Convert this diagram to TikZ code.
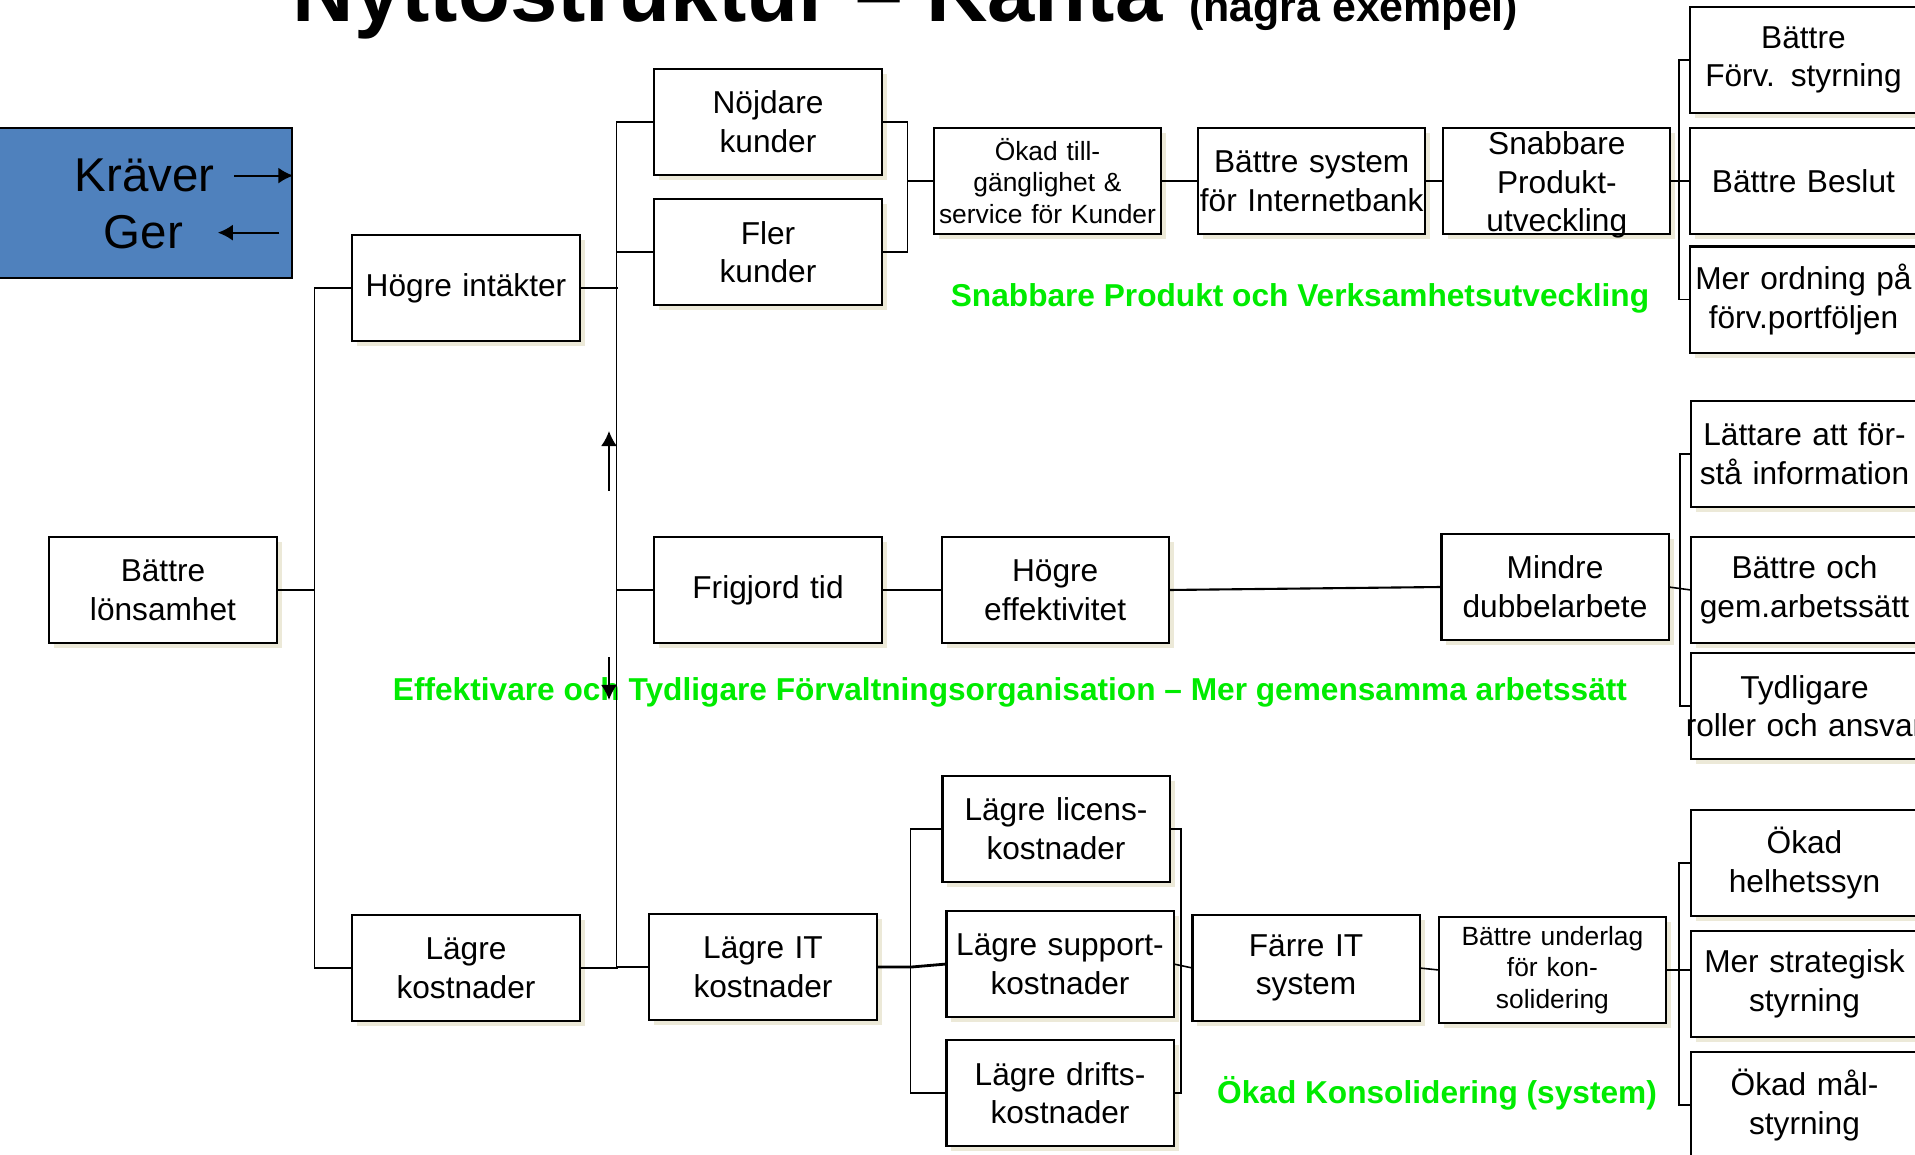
\documentclass[tikz,border=0pt]{standalone}
\usepackage{fontspec}
\setmainfont{Liberation Sans}
\usepackage{tikz}
\usetikzlibrary{arrows.meta, positioning, shadows}

\definecolor{legendblue}{RGB}{79,129,189}
\definecolor{goalgreen}{RGB}{0,235,0}
\definecolor{boxshadow}{RGB}{236,233,216}

\begin{document}
\begin{tikzpicture}[
            % one unit = one pixel of the slide
            x=0.01cm, y=-0.01cm,
            box/.style={
                draw, rectangle, line width=0.6pt,
                minimum height=1.06cm, minimum width=2.27cm,
                text width=2.27cm, inner xsep=0pt, inner ysep=0pt, outer sep=0pt,
                align=center, fill=white,
                font=\fontsize{9}{11}\selectfont,
                drop shadow={shadow xshift=0.05cm, shadow yshift=-0.05cm, fill=boxshadow, opacity=1}
            },
            smallbox/.style={box, font=\fontsize{7.5}{9}\selectfont},
            legend/.style={
                draw, rectangle, line width=0.7pt,
                minimum width=2.94cm, minimum height=1.5cm,
                fill=legendblue
            },
            goal/.style={text=goalgreen, inner sep=0pt, font=\fontsize{9}{11}\selectfont\bfseries},
            link/.style={line width=0.45pt},
            arrow/.style={-{Latex[length=1.5mm, width=1.6mm]}, line width=0.6pt}
        ]

        \useasboundingbox (0,0) rectangle (1915,1155);

        % Title
        \node[anchor=base west, inner sep=0pt, font=\fontsize{24.2}{29}\selectfont\bfseries] (title) at (292,22) {Nyttostruktur -- Kanta};
        \node[anchor=base west, inner sep=0pt, font=\fontsize{12.2}{14}\selectfont\bfseries] (subtitle) at ([xshift=0.25cm]title.base east) {(några exempel)};

        % Legend
        \node[legend] (legend) at (145,203) {};
        \node[anchor=base, inner sep=0pt, font=\fontsize{13.5}{16}\selectfont] (kraver) at (144.5,191.7) {Kräver};
        \node[anchor=base, inner sep=0pt, font=\fontsize{13.5}{16}\selectfont] (ger) at (143.5,249) {Ger};
        \draw[arrow] ([xshift=0.19cm]kraver.east) -- (kraver.east -| legend.east);
        \draw[arrow] ([xshift=-0.14cm]ger.east -| legend.east) -- ([xshift=0.34cm]ger.east);

        % Root and first level
        \node[box] (lonsamhet) at (163,590) {Bättre\\lönsamhet};
        \node[box] (intakter) at (466,288) {Högre intäkter};
        \node[box] (kostnader) at (466,968) {Lägre\\kostnader};

        % Second level
        \node[box] (nojdare) at (768,122) {Nöjdare\\kunder};
        \node[box, below=0.24cm of nojdare] (fler) {Fler\\kunder};
        \node[box] (frigjord) at (768,590) {Frigjord tid};
        \node[box] (lagreit) at (763,967) {Lägre IT\\kostnader};

        % Upper branch
        \node[smallbox] (tillgang) at (1047.5,181) {Ökad till-\\gänglighet \&\\service för Kunder};
        \node[box, right=0.37cm of tillgang] (internetbank) {Bättre system\\för Internetbank};
        \node[box, right=0.18cm of internetbank, text height=7pt, text depth=22pt] (snabbare) {Snabbare\\Produkt-\\utveckling};
        \node[box, right=0.195cm of snabbare] (beslut) {Bättre Beslut};
        \node[box, above=0.15cm of beslut] (forvstyrning) {Bättre\\Förv. styrning};
        \node[box, below=0.125cm of beslut] (ordning) {Mer ordning på\\förv.portföljen};

        % Middle branch
        \node[box, right=0.6cm of frigjord] (effektivitet) {Högre\\effektivitet};
        \node[box] (dubbel) at (1555,587) {Mindre\\dubbelarbete};
        \node[box] (arbetssatt) at (1804.5,590) {Bättre och\\gem.arbetssätt};
        \node[box, above=0.3cm of arbetssatt] (forsta) {Lättare att för-\\stå information};
        \node[box, below=0.1cm of arbetssatt] (roller) {Tydligare\\\makebox[2.27cm]{roller och ansvar}};

        % Lower branch
        \node[box] (licens) at (1056,829) {Lägre licens-\\kostnader};
        \node[box] (support) at (1060,964) {Lägre support-\\kostnader};
        \node[box, below=0.23cm of support] (drift) {Lägre drifts-\\kostnader};
        \node[box] (farre) at (1306,968) {Färre IT\\system};
        \node[smallbox] (underlag) at (1552.4,970) {Bättre underlag\\för kon-\\solidering};
        \node[box] (strategisk) at (1804.5,984) {Mer strategisk\\styrning};
        \node[box, above=0.15cm of strategisk] (helhet) {Ökad\\helhetssyn};
        \node[box, below=0.15cm of strategisk] (malstyrning) {Ökad mål-\\styrning};

        % Goals
        \node[goal] (goalfast) at (1300,298) {Snabbare Produkt och Verksamhetsutveckling};
        \node[goal] (goalorg) at (1010,692) {Effektivare och Tydligare Förvaltningsorganisation -- Mer gemensamma arbetssätt};
        \node[goal] (goalcons) at (1437,1093) {Ökad Konsolidering (system)};

        % Tree lines
        \draw[link] (lonsamhet.east) -- ++(38,0);
        \draw[link] (intakter.west) -- ++(-38,0) |- (kostnader.west);
        \draw[link] (nojdare.west) -- ++(-38,0) |- (lagreit.west);
        \draw[link] (fler.west) -- ++(-38,0);
        \draw[link] (frigjord.west) -- ++(-38,0);
        \draw[link, line width=0.8pt] (intakter.east) -- ++(38,0);
        \draw[link, line width=0.8pt] (kostnader.east) -- ++(38,0);

        \draw[link] (nojdare.east) -- ++(26,0) |- (fler.east);
        \draw[link] (tillgang.west) -- ++(-26,0);
        \draw[link] (tillgang) -- (internetbank);
        \draw[link] (internetbank) -- (snabbare);
        \draw[link] (snabbare) -- (beslut);
        \draw[link] (forvstyrning.west) -- ++(-11,0) |- (ordning.west);

        \draw[link] (frigjord) -- (effektivitet);
        \draw[link, line width=0.6pt] (effektivitet.east) -- (dubbel.west);
        \draw[link] (dubbel.east) -- (arbetssatt.west);
        \draw[link] (forsta.west) -- ++(-11,0) |- (roller.west);

        \draw[link, line width=0.8pt] (lagreit.east) -- ++(35,0) -- (support.west);
        \draw[link] (licens.west) -- ++(-32,0) |- (drift.west);
        \draw[link] (licens.east) -- ++(11.5,0) |- (drift.east);
        \draw[link] (support.east) -- (farre.west);
        \draw[link] (farre.east) -- (underlag.west);
        \draw[link, line width=0.8pt] (underlag.east) -- (underlag.east -| strategisk.west);
        \draw[link] (helhet.west) -- ++(-12,0) |- (malstyrning.west);

        % Arrows beside the trunk
        \coordinate (uptail) at (609,491);
        \coordinate (uptip) at (609,431);
        \coordinate (downtail) at (609,657);
        \coordinate (downtip) at (609,700);
        \draw[arrow] (uptail) -- (uptip);
        \draw[arrow] (downtail) -- (downtip);

        \end{tikzpicture}
\end{document}
